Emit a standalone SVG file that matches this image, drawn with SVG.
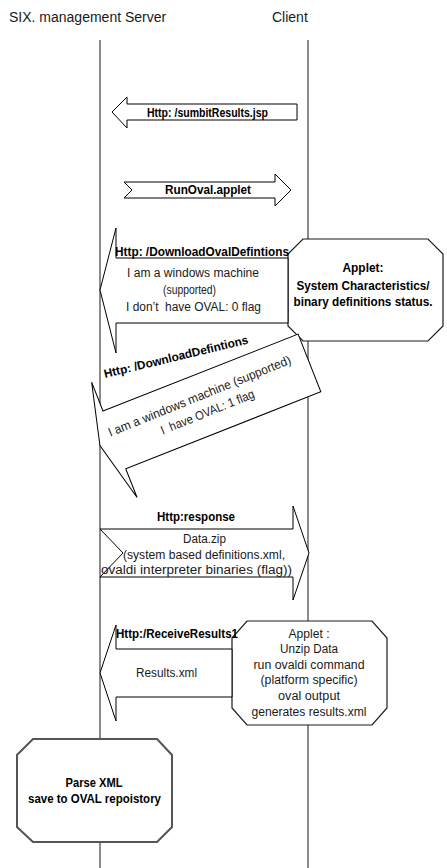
<svg xmlns="http://www.w3.org/2000/svg" width="447" height="868" viewBox="0 0 447 868">
<style>
  .bg{fill:#ffffff}
  .life{stroke:#6e6e6e;stroke-width:1.6;fill:none}
  .shape{fill:#ffffff;stroke:#000000;stroke-width:1}
  .oct{fill:#ffffff;stroke:#1a1a1a;stroke-width:1.2}
  .oct3{fill:#ffffff;stroke:#555555;stroke-width:2}
  .hdr{font-family:"Liberation Sans",Arial,sans-serif;font-size:14px;fill:#1a1a1a}
  .b{font-family:"Liberation Sans",Arial,sans-serif;font-size:12px;font-weight:bold;fill:#000000}
  .r{font-family:"Liberation Sans",Arial,sans-serif;font-size:12.5px;fill:#1a1a1a;white-space:pre}
  .m{text-anchor:middle}
</style>
<rect class="bg" x="0" y="0" width="447" height="868"/>

<g id="header-server"><text class="hdr" x="9" y="22">SIX. management Server</text></g>
<g id="header-client"><text class="hdr" x="272" y="22">Client</text></g>

<g id="connectors">
  <line class="life" x1="100" y1="40" x2="100" y2="868"/>
  <line class="life" x1="308" y1="40" x2="308" y2="868"/>
</g>

<g id="msg-submit">
  <path class="shape" d="M112,112 L127,97 L127,104 L297,104 L297,120 L127,120 L127,128 Z"/>
  <text class="b" x="147" y="117" textLength="121" lengthAdjust="spacingAndGlyphs">Http: /sumbitResults.jsp</text>
</g>

<g id="msg-runoval">
  <path class="shape" d="M124,182 L275,182 L275,174 L291,190 L275,206 L275,198 L124,198 L132,190 Z"/>
  <text class="b" x="165" y="194" textLength="86" lengthAdjust="spacingAndGlyphs">RunOval.applet</text>
</g>

<g id="applet-status">
  <path class="oct" d="M303,239 L428,239 L443,254 L443,326 L428,341 L303,341 L288,326 L288,254 Z"/>
  <text class="b m" x="363" y="272" textLength="41" lengthAdjust="spacingAndGlyphs">Applet:</text>
  <text class="b m" x="363" y="290" textLength="133" lengthAdjust="spacingAndGlyphs">System Characteristics/</text>
  <text class="b m" x="363" y="306" textLength="139" lengthAdjust="spacingAndGlyphs">binary definitions status.</text>
</g>

<g id="msg-download-oval">
  <path class="shape" d="M100,290 L116,228 L116,258 L288,258 L288,323 L116,323 L116,353 Z"/>
  <text class="b" x="115" y="256" textLength="174" lengthAdjust="spacingAndGlyphs">Http: /DownloadOvalDefintions</text>
  <text class="r" x="127" y="277" textLength="132" lengthAdjust="spacingAndGlyphs">I am a windows machine</text>
  <text class="r" x="163" y="294" textLength="53" lengthAdjust="spacingAndGlyphs">(supported)</text>
  <text class="r" x="126" y="311" textLength="135" lengthAdjust="spacingAndGlyphs">I don’t  have OVAL: 0 flag</text>
</g>

<g id="msg-download-defs">
  <path class="shape" transform="translate(103,411) rotate(-21.5)" d="M0,0 L209.7,0 L209.7,62 L0,62 L0,93 L-15.5,31 L0,-31 Z"/>
  <text class="b" transform="translate(105,378) rotate(-13.5)" x="0" y="0" textLength="148" lengthAdjust="spacingAndGlyphs">Http: /DownloadDefintions</text>
  <text class="r m" transform="translate(201,400) rotate(-22)" x="0" y="0" textLength="196" lengthAdjust="spacingAndGlyphs">I am a windows machine (supported)</text>
  <text class="r m" transform="translate(209,416) rotate(-22)" x="0" y="0" textLength="100" lengthAdjust="spacingAndGlyphs">I  have OVAL: 1 flag</text>
</g>

<g id="msg-response">
  <path class="shape" d="M100,529 L293,529 L293,506 L309,553 L293,600 L293,577 L100,577 L123,553 Z"/>
  <text class="b" x="157" y="521" textLength="78" lengthAdjust="spacingAndGlyphs">Http:response</text>
  <text class="r" x="183" y="543" textLength="43" lengthAdjust="spacingAndGlyphs">Data.zip</text>
  <text class="r" x="123" y="559" textLength="162" lengthAdjust="spacingAndGlyphs">(system based definitions.xml,</text>
  <text class="r" x="101" y="574" textLength="191" lengthAdjust="spacingAndGlyphs">ovaldi interpreter binaries (flag))</text>
</g>

<g id="applet-run">
  <path class="oct" d="M247,621 L372,621 L387,638 L387,708 L372,725 L247,725 L232,708 L232,638 Z"/>
  <text class="r m" x="309" y="638" textLength="41" lengthAdjust="spacingAndGlyphs">Applet :</text>
  <text class="r m" x="309" y="653" textLength="58" lengthAdjust="spacingAndGlyphs">Unzip Data</text>
  <text class="r m" x="309" y="669" textLength="111" lengthAdjust="spacingAndGlyphs">run ovaldi command</text>
  <text class="r m" x="309" y="684" textLength="97" lengthAdjust="spacingAndGlyphs">(platform specific)</text>
  <text class="r m" x="309" y="700" textLength="62" lengthAdjust="spacingAndGlyphs">oval output</text>
  <text class="r m" x="309" y="716" textLength="115" lengthAdjust="spacingAndGlyphs">generates results.xml</text>
</g>

<g id="msg-receive">
  <path class="shape" d="M100,673 L116,625 L116,649 L232,649 L232,697 L116,697 L116,721 Z"/>
  <text class="b" x="116" y="638" textLength="122" lengthAdjust="spacingAndGlyphs">Http:/ReceiveResults1</text>
  <text class="r" x="136" y="677" textLength="61" lengthAdjust="spacingAndGlyphs">Results.xml</text>
</g>

<g id="parse-xml">
  <path class="oct3" d="M33,739 L157,739 L172,755 L172,827 L157,842 L33,842 L17,827 L17,755 Z"/>
  <text class="b m" x="94" y="787" textLength="57" lengthAdjust="spacingAndGlyphs">Parse XML</text>
  <text class="b m" x="94.5" y="803" textLength="133" lengthAdjust="spacingAndGlyphs">save to OVAL repoistory</text>
</g>
</svg>
